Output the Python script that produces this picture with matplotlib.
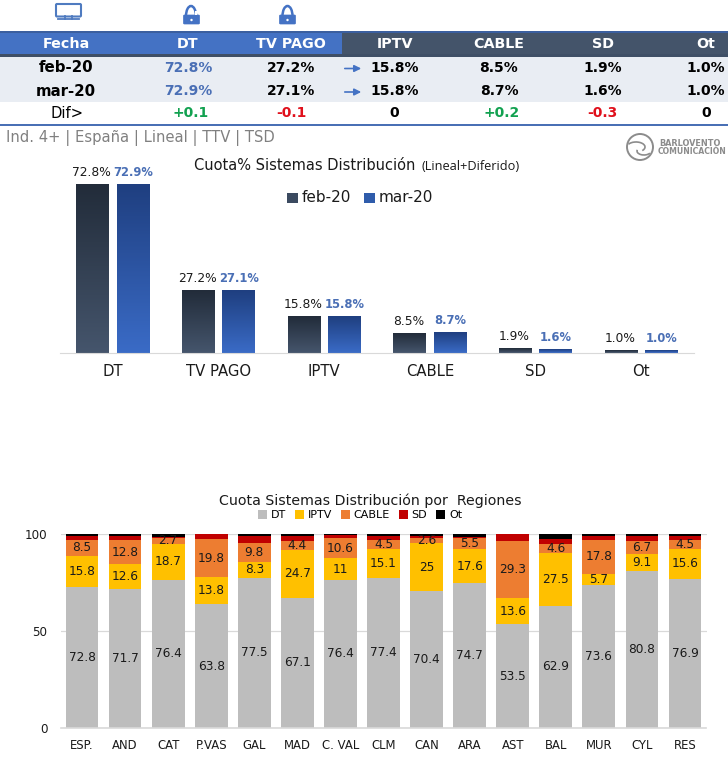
import matplotlib
matplotlib.use('Agg')
import matplotlib.pyplot as plt
import numpy as np
from matplotlib.colors import LinearSegmentedColormap
from matplotlib.patches import Rectangle, FancyBboxPatch, Circle, Arc

# tabla de arriba
col_names = ['Fecha', 'DT', 'TV PAGO', 'IPTV', 'CABLE', 'SD', 'Ot']
row_feb = ['feb-20', '72.8%', '27.2%', '15.8%', '8.5%', '1.9%', '1.0%']
row_mar = ['mar-20', '72.9%', '27.1%', '15.8%', '8.7%', '1.6%', '1.0%']
row_dif = ['Dif>', '+0.1', '-0.1', '0', '+0.2', '-0.3', '0']

# grafico de cuota
sistemas = ['DT', 'TV PAGO', 'IPTV', 'CABLE', 'SD', 'Ot']
feb_20 = [72.8, 27.2, 15.8, 8.5, 1.9, 1.0]
mar_20 = [72.9, 27.1, 15.8, 8.7, 1.6, 1.0]

# grafico de regiones
regiones = ['ESP.', 'AND', 'CAT', 'P.VAS', 'GAL', 'MAD', 'C. VAL', 'CLM', 'CAN',
            'ARA', 'AST', 'BAL', 'MUR', 'CYL', 'RES']
reg_dt = [72.8, 71.7, 76.4, 63.8, 77.5, 67.1, 76.4, 77.4, 70.4, 74.7, 53.5, 62.9, 73.6, 80.8, 76.9]
reg_iptv = [15.8, 12.6, 18.7, 13.8, 8.3, 24.7, 11, 15.1, 25, 17.6, 13.6, 27.5, 5.7, 9.1, 15.6]
reg_cable = [8.5, 12.8, 2.7, 19.8, 9.8, 4.4, 10.6, 4.5, 2.6, 5.5, 29.3, 4.6, 17.8, 6.7, 4.5]
reg_sd = [1.9, 1.9, 0.5, 2.4, 3.6, 2.9, 1.7, 2.2, 1.0, 0.8, 3.4, 2.2, 1.9, 2.4, 1.9]
reg_ot = [1.0, 1.0, 1.7, 0.2, 0.8, 0.9, 0.3, 0.8, 1.0, 1.4, 0.2, 2.8, 1.0, 1.0, 1.1]

W, H = 728, 772
fig = plt.figure(figsize=(W / 100, H / 100), dpi=100, facecolor='white')


def px_axes(left, top, right, bottom):
    return fig.add_axes([left / W, 1 - bottom / H, (right - left) / W, (bottom - top) / H])


# capa en pixeles para la tabla, iconos y titulos
top = fig.add_axes([0, 0, 1, 1])
top.set_xlim(0, W)
top.set_ylim(H, 0)
top.axis('off')

BLUE = '#4472c4'
SLATE = '#44546a'
top.add_patch(Rectangle((0, 32), 342, 23, color=BLUE, lw=0))
top.add_patch(Rectangle((342, 32), W - 342, 23, color=SLATE, lw=0))
top.add_patch(Rectangle((0, 31), W, 2, color='#3b5f9f', lw=0))
top.add_patch(Rectangle((0, 54), W, 2.5, color='#3f4f66', lw=0))
top.add_patch(Rectangle((0, 56.5), W, 45.5, color='#e9edf3', lw=0))
top.add_patch(Rectangle((0, 123.5), W, 2, color='#4a70b5', lw=0))

col_x = [66, 188, 291, 395, 499, 603, 706]
for name, x in zip(col_names, col_x):
    top.text(x, 44, name, color='white', fontsize=10.3, fontweight='bold',
             ha='center', va='center')
for y, row in ((68, row_feb), (91, row_mar)):
    for i, (val, x) in enumerate(zip(row, col_x)):
        color = '#4a6fb5' if i == 1 else 'black'
        size = 10.8 if i == 0 else 10
        top.text(x, y, val, color=color, fontsize=size, fontweight='bold',
                 ha='center', va='center')
dif_x = [67, 191, 291, 394, 502, 602, 706]
for i, (val, x) in enumerate(zip(row_dif, dif_x)):
    color = 'black'
    if val.startswith('+'):
        color = '#12a150'
    elif val.startswith('-'):
        color = '#e0101c'
    top.text(x, 113, val, color=color, fontsize=10.6 if i == 0 else 10,
             fontweight='normal' if i == 0 else 'bold', ha='center', va='center')

for y in (68.5, 92):
    top.annotate('', xy=(364, y), xytext=(342, y),
                 arrowprops=dict(arrowstyle='-|>', color='#4472c4', lw=1.2, mutation_scale=10))

# icono tele
top.add_patch(FancyBboxPatch((56, 4), 25, 12.5, boxstyle='round,pad=0,rounding_size=1',
                             fc='white', ec='#4f7bc0', lw=1.5))
top.plot([58, 79], [19, 19], color='#4f7bc0', lw=1.3)
top.plot([65, 65], [16, 19], color='#4f7bc0', lw=1.3)
top.plot([72, 72], [16, 19], color='#4f7bc0', lw=1.3)
# candados
top.add_patch(Arc((191, 16), 10, 20, theta1=180, theta2=360, color=BLUE, lw=1.8))
top.add_patch(Arc((287.5, 16), 10, 20, theta1=180, theta2=360, color=BLUE, lw=1.8))
for x in (183.5, 279.5):
    top.add_patch(FancyBboxPatch((x, 15), 16, 9, boxstyle='round,pad=0,rounding_size=1',
                                 fc=BLUE, ec=BLUE, lw=0.5))
    top.add_patch(Circle((x + 8, 20), 1.2, color='white', lw=0))
top.add_patch(Rectangle((194.5, 11), 2.5, 3.5, color='white', lw=0))

top.text(6, 138, 'Ind. 4+ | España | Lineal | TTV | TSD', color='#808080', fontsize=10.6,
         va='center', ha='left')

# logo
top.add_patch(Circle((640, 147), 13, fc='none', ec='#8c8c8c', lw=1.4))
top.add_patch(Arc((636, 147), 18, 10, theta1=200, theta2=30, color='#8c8c8c', lw=1.2))
top.add_patch(Arc((644, 151), 14, 8, theta1=20, theta2=190, color='#8c8c8c', lw=1.2))
top.text(659, 143, 'BARLOVENTO', color='#8c8c8c', fontsize=5.9, fontweight='bold', va='center', ha='left')
top.text(658, 151, 'COMUNICACIÓN', color='#8c8c8c', fontsize=5.6, fontweight='bold', va='center', ha='left')

top.text(194, 165, 'Cuota% Sistemas Distribución', fontsize=10.5, color='#1a1a1a', va='center', ha='left')
top.text(421, 166, '(Lineal+Diferido)', fontsize=9.2, family='Open Sans', color='#1a1a1a', va='center', ha='left')
top.text(370, 501, 'Cuota Sistemas Distribución por  Regiones', fontsize=10.2, color='#1a1a1a',
         va='center', ha='center')

# barras con degradado
ax1 = px_axes(60, 168, 694, 353)
ax1.patch.set_alpha(0)
x1 = np.arange(len(sistemas))
bw = 0.31
off = 0.19
cmap_feb = LinearSegmentedColormap.from_list('feb', ['#222c3a', '#45556c'])
cmap_mar = LinearSegmentedColormap.from_list('mar', ['#1f3f80', '#3a6bc6'])
grad = np.linspace(0, 1, 64).reshape(-1, 1)
for vals, sign, cmap in ((feb_20, -1, cmap_feb), (mar_20, 1, cmap_mar)):
    bars = ax1.bar(x1 + sign * off, vals, bw, color='none', lw=0)
    for b in bars:
        ax1.imshow(grad, cmap=cmap, aspect='auto', origin='upper', zorder=2,
                   extent=(b.get_x(), b.get_x() + b.get_width(), 0, b.get_height()))
for xi, a, b in zip(x1, feb_20, mar_20):
    ax1.annotate(f'{a:.1f}%', (xi - off, a), xytext=(-1, 4), textcoords='offset points',
                 ha='center', va='bottom', fontsize=8.8, color='#1a1a1a')
    ax1.annotate(f'{b:.1f}%', (xi + off, b), xytext=(0, 4), textcoords='offset points',
                 ha='center', va='bottom', fontsize=8.3, fontweight='bold', color='#4a6fb5')
ax1.set_xlim(-0.5, 5.5)
ax1.set_ylim(0, 80)
ax1.set_yticks([])
ax1.set_xticks(x1, sistemas, fontsize=10.7, color='#1a1a1a')
ax1.tick_params(axis='x', length=0, pad=8)
for s in ('top', 'left', 'right'):
    ax1.spines[s].set_visible(False)
ax1.spines['bottom'].set_color('#d9d9d9')

top.add_patch(Rectangle((287, 193), 11, 10, color='#3b4a60', lw=0))
top.text(302, 198, 'feb-20', fontsize=11, color='#1a1a1a', va='center', ha='left')
top.add_patch(Rectangle((364, 193), 11, 10, color='#2f5cab', lw=0))
top.text(379, 198, 'mar-20', fontsize=11, color='#1a1a1a', va='center', ha='left')

# barras apiladas
ax2 = px_axes(60.5, 534, 706.5, 728)
ax2.patch.set_alpha(0)
x2 = np.arange(len(regiones))
series = [('DT', reg_dt, '#bdbdbd'), ('IPTV', reg_iptv, '#ffc000'), ('CABLE', reg_cable, '#ed7d31'),
          ('SD', reg_sd, '#c00000'), ('Ot', reg_ot, '#000000')]
bottom = np.zeros(len(regiones))
for name, vals, color in series:
    bars = ax2.bar(x2, vals, 0.76, bottom=bottom, color=color, label=name, zorder=2, lw=0)
    if name in ('DT', 'IPTV', 'CABLE'):
        ax2.bar_label(bars, labels=[f'{v:g}' for v in vals], label_type='center',
                      fontsize=8.7, color='#1a1a1a', zorder=3)
    bottom += np.array(vals)
ax2.set_xlim(-0.5, 14.5)
ax2.set_ylim(0, 100)
ax2.set_yticks([0, 50, 100])
ax2.set_xticks(x2, regiones)
ax2.tick_params(axis='both', length=0, labelsize=8.6, labelcolor='#1a1a1a')
ax2.tick_params(axis='x', pad=8, labelsize=8.4)
ax2.tick_params(axis='y', pad=9.5)
ax2.grid(axis='y', color='#d9d9d9', lw=0.9, zorder=0)
for s in ('top', 'left', 'right'):
    ax2.spines[s].set_visible(False)
ax2.spines['bottom'].set_color('#d9d9d9')
ax2.spines['bottom'].set_linewidth(1.2)
ax2.legend(loc='lower center', bbox_to_anchor=((360 - 60.5) / 646, 1.07), ncols=5, frameon=False,
           fontsize=8, handlelength=0.8, handleheight=0.8, handletextpad=0.35, columnspacing=0.8,
           borderpad=0, borderaxespad=0)

fig.savefig('out.png', dpi=100)
